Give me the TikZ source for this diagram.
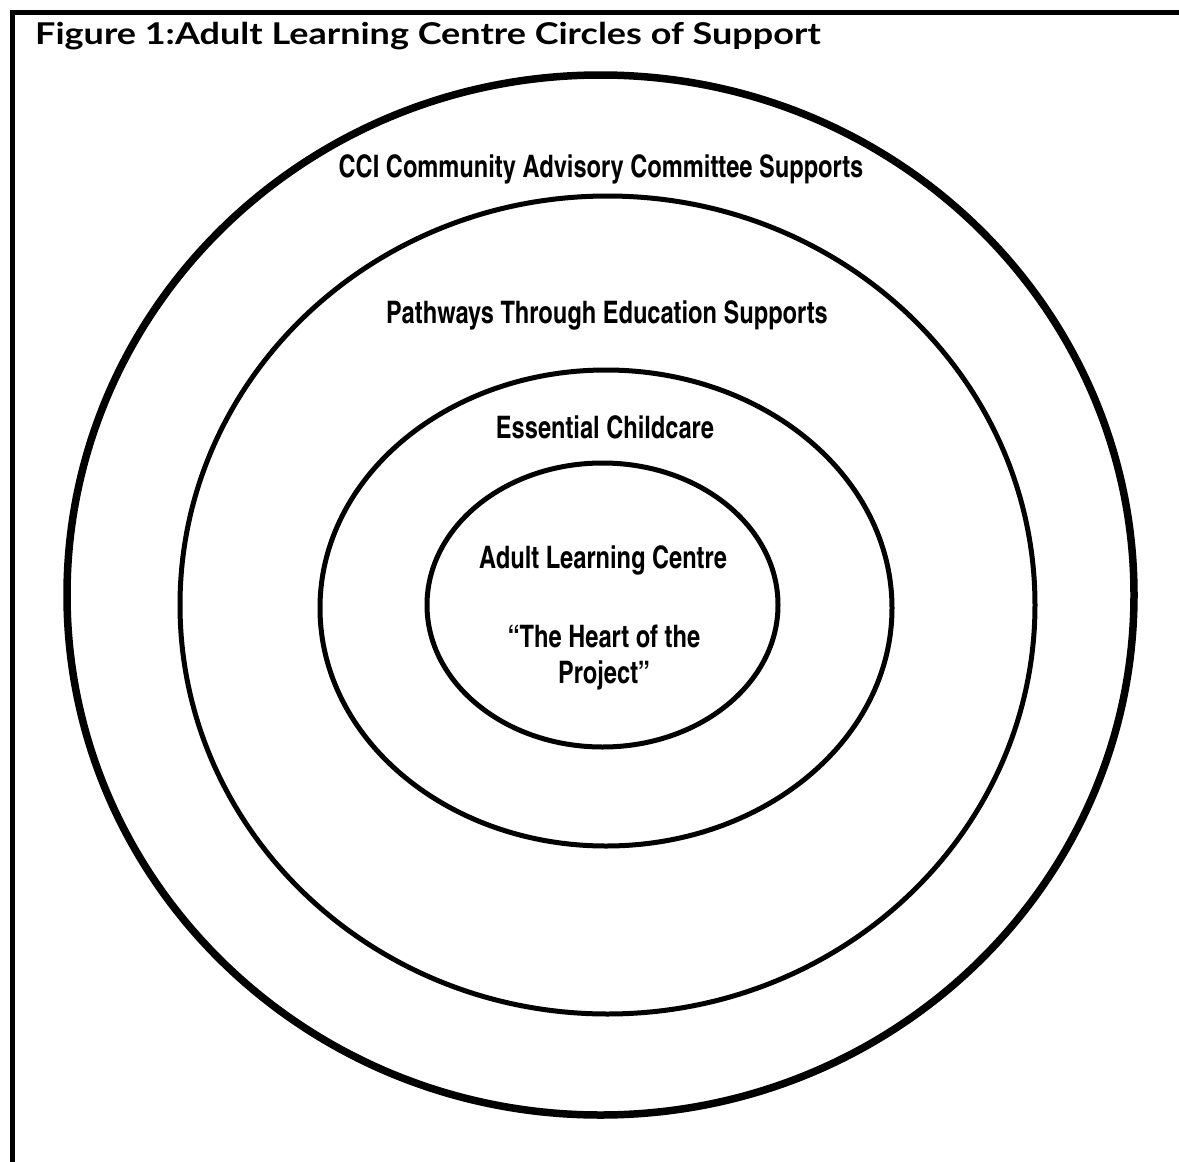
\documentclass[tikz,border=0pt]{standalone}
\usepackage{fontspec}
\usepackage{tikz}
\usetikzlibrary{shapes.geometric, positioning}
\newfontfamily\titlefont{Lato}[FakeStretch=1.2]
\newfontfamily\ringfont{texgyreheroscn-bold.otf}[FakeStretch=0.93]
\tikzset{
  ring/.style={ellipse, draw, line width=5pt, inner sep=0pt, outer sep=0pt},
  outerring/.style={ring, line width=7.5pt},
  ringlabel/.style={font=\ringfont\fontsize{31}{36}\selectfont, align=center,
                    inner sep=0pt, anchor=base},
  titlelabel/.style={font=\titlefont\bfseries\fontsize{30}{36}\selectfont,
                     inner sep=0pt, anchor=base west},
  frameline/.style={line width=5pt},
}

\begin{document}
\begin{tikzpicture}[x=1pt, y=-1pt]
  \useasboundingbox (0,0) rectangle (1179,1162);

  % frame: left and top edges only
  \coordinate (framebl) at (12.5,1162);
  \coordinate (frametl) at (12.5,12.5);
  \coordinate (frametr) at (1179,12.5);
  \draw[frameline] (framebl) -- (frametl) -- (frametr);

  \node (title) [titlelabel] at (35,44) {Figure 1:Adult Learning Centre Circles of Support};

  % circles of support, outermost first
  \node (cci) [outerring, minimum width=1067pt, minimum height=1040pt] at (600.5,595) {};
  \node (pathways) [ring, minimum width=855pt, minimum height=818pt] at (607.5,605) {};
  \node (childcare) [ring, minimum width=572pt, minimum height=476pt] at (606,608) {};
  \node (centre) [ring, minimum width=351pt, minimum height=284pt] at (602.5,605) {};

  \node (ccitext) [ringlabel] at (601,177) {CCI Community Advisory Committee Supports};
  \node (pathwaystext) [ringlabel] at (607,323) {Pathways Through Education Supports};
  \node (childcaretext) [ringlabel] at (605,438) {Essential Childcare};
  \node (centretext) [ringlabel] at (603,568) {Adult Learning Centre};
  % base sits on the last line here
  \node (hearttext) [ringlabel] at (604,683) {“The Heart of the\\Project”};
\end{tikzpicture}
\end{document}
